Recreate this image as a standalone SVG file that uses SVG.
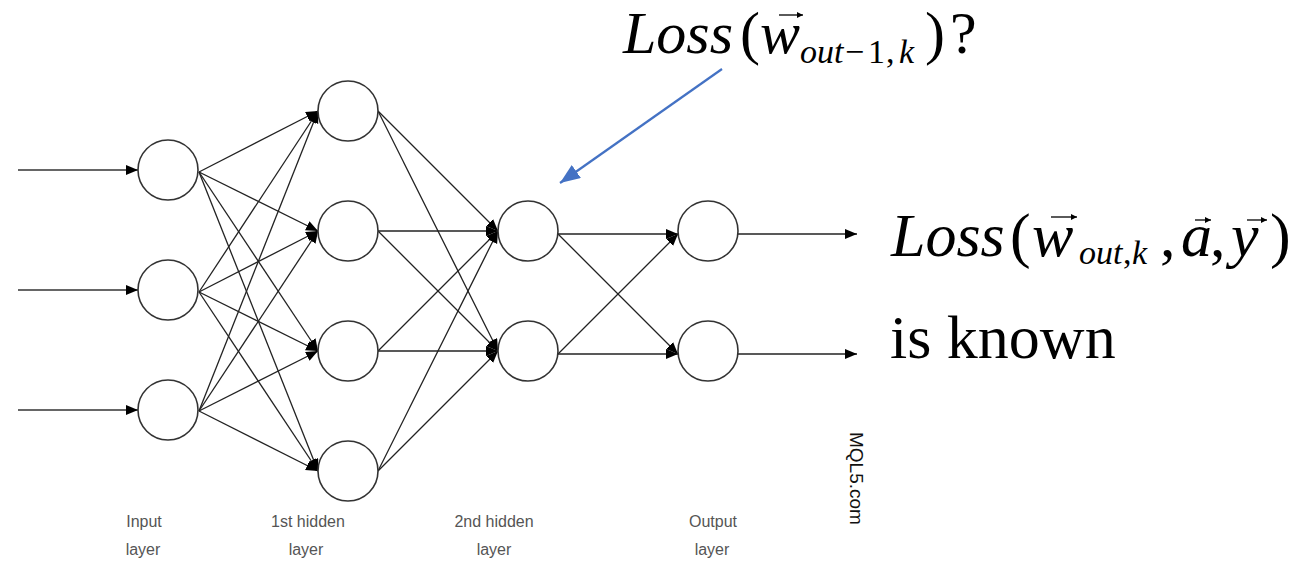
<svg xmlns="http://www.w3.org/2000/svg" width="1302" height="561" viewBox="0 0 1302 561">
<defs>
<style>
.node{fill:#fff;stroke:#333;stroke-width:1.6}
.edge{stroke:#222;stroke-width:1.3;fill:none}
.inp{stroke:#666;stroke-width:2;fill:none}
.lbl{font-family:'Liberation Sans',Arial,sans-serif;font-size:16px;fill:#555;text-anchor:middle}
.it{font-style:italic}
.vec{stroke:#000;stroke-width:1.3;fill:none}
.ser{font-family:'Liberation Serif','Times New Roman',serif}
</style>
<marker id="ah" markerUnits="userSpaceOnUse" markerWidth="14" markerHeight="12" refX="12" refY="5" orient="auto">
<path d="M0,0 L12,5 L0,10 z" fill="#000"/>
</marker>
<marker id="bh" markerUnits="userSpaceOnUse" markerWidth="22" markerHeight="18" refX="20" refY="8" orient="auto">
<path d="M0,0 L20,8 L0,16 z" fill="#4472C4"/>
</marker>
<marker id="vh" markerUnits="userSpaceOnUse" markerWidth="8" markerHeight="8" refX="6" refY="3" orient="auto">
<path d="M0,0 L6,3 L0,6 z" fill="#000"/>
</marker>
</defs>
<rect width="1302" height="561" fill="#fff"/>
<g id="connectors">
<line class="inp" x1="18" y1="170" x2="138" y2="170" marker-end="url(#ah)"/>
<line class="inp" x1="18" y1="290" x2="138" y2="290" marker-end="url(#ah)"/>
<line class="inp" x1="18" y1="410" x2="138" y2="410" marker-end="url(#ah)"/>
<line class="edge" x1="199" y1="172" x2="318" y2="111" marker-end="url(#ah)"/>
<line class="edge" x1="199" y1="172" x2="318" y2="231" marker-end="url(#ah)"/>
<line class="edge" x1="199" y1="172" x2="318" y2="351" marker-end="url(#ah)"/>
<line class="edge" x1="199" y1="172" x2="318" y2="471" marker-end="url(#ah)"/>
<line class="edge" x1="199" y1="292" x2="318" y2="111" marker-end="url(#ah)"/>
<line class="edge" x1="199" y1="292" x2="318" y2="231" marker-end="url(#ah)"/>
<line class="edge" x1="199" y1="292" x2="318" y2="351" marker-end="url(#ah)"/>
<line class="edge" x1="199" y1="292" x2="318" y2="471" marker-end="url(#ah)"/>
<line class="edge" x1="199" y1="411" x2="318" y2="111" marker-end="url(#ah)"/>
<line class="edge" x1="199" y1="411" x2="318" y2="231" marker-end="url(#ah)"/>
<line class="edge" x1="199" y1="411" x2="318" y2="351" marker-end="url(#ah)"/>
<line class="edge" x1="199" y1="411" x2="318" y2="471" marker-end="url(#ah)"/>
<line class="edge" x1="378" y1="111" x2="498" y2="231" marker-end="url(#ah)"/>
<line class="edge" x1="378" y1="111" x2="498" y2="351" marker-end="url(#ah)"/>
<line class="edge" x1="378" y1="231" x2="498" y2="231" marker-end="url(#ah)"/>
<line class="edge" x1="378" y1="231" x2="498" y2="351" marker-end="url(#ah)"/>
<line class="edge" x1="378" y1="351" x2="498" y2="231" marker-end="url(#ah)"/>
<line class="edge" x1="378" y1="351" x2="498" y2="351" marker-end="url(#ah)"/>
<line class="edge" x1="378" y1="471" x2="498" y2="231" marker-end="url(#ah)"/>
<line class="edge" x1="378" y1="471" x2="498" y2="351" marker-end="url(#ah)"/>
<line class="edge" x1="558" y1="234" x2="678" y2="234" marker-end="url(#ah)"/>
<line class="edge" x1="558" y1="234" x2="678" y2="354" marker-end="url(#ah)"/>
<line class="edge" x1="558" y1="354" x2="678" y2="234" marker-end="url(#ah)"/>
<line class="edge" x1="558" y1="354" x2="678" y2="354" marker-end="url(#ah)"/>
<line class="edge" x1="738" y1="234" x2="857" y2="234" marker-end="url(#ah)"/>
<line class="edge" x1="738" y1="354" x2="857" y2="354" marker-end="url(#ah)"/>
<line x1="722" y1="69" x2="560" y2="183" stroke="#4472C4" stroke-width="2.2" marker-end="url(#bh)"/>
</g>
<g id="input1"><circle class="node" cx="168" cy="170" r="30"/></g>
<g id="input2"><circle class="node" cx="168" cy="290" r="30"/></g>
<g id="input3"><circle class="node" cx="168" cy="410" r="30"/></g>
<g id="h1a"><circle class="node" cx="348" cy="111" r="30"/></g>
<g id="h1b"><circle class="node" cx="348" cy="231" r="30"/></g>
<g id="h1c"><circle class="node" cx="348" cy="351" r="30"/></g>
<g id="h1d"><circle class="node" cx="348" cy="471" r="30"/></g>
<g id="h2a"><circle class="node" cx="528" cy="231" r="30"/></g>
<g id="h2b"><circle class="node" cx="528" cy="351" r="30"/></g>
<g id="outa"><circle class="node" cx="708" cy="231" r="30"/></g>
<g id="outb"><circle class="node" cx="708" cy="351" r="30"/></g>
<g id="labels">
<text class="lbl" x="144" y="527">Input</text>
<text class="lbl" x="143" y="555">layer</text>
<text class="lbl" x="308" y="527">1st hidden</text>
<text class="lbl" x="306" y="555">layer</text>
<text class="lbl" x="494" y="527">2nd hidden</text>
<text class="lbl" x="494" y="555">layer</text>
<text class="lbl" x="713" y="527">Output</text>
<text class="lbl" x="712" y="555">layer</text>
<text transform="translate(850,432) rotate(90)" font-family="Liberation Sans, Arial, sans-serif" font-size="19" fill="#111">MQL5.com</text>
</g>
<g id="question" class="ser" fill="#000">
<text font-size="60"><tspan class="it" x="623" y="53">Loss</tspan><tspan x="740" y="53">(</tspan><tspan class="it" x="760" y="53">w</tspan></text>
<line class="vec" x1="779" y1="15" x2="803" y2="15" marker-end="url(#vh)"/>
<text font-size="34"><tspan class="it" x="800" y="63">out</tspan><tspan x="845" y="63">−</tspan><tspan x="868" y="63">1</tspan><tspan x="886" y="63">,</tspan><tspan class="it" x="899" y="63">k</tspan></text>
<text font-size="60"><tspan x="925" y="53">)</tspan><tspan x="950" y="53">?</tspan></text>
</g>
<g id="known" class="ser" fill="#000">
<text font-size="62"><tspan class="it" x="891" y="256">Loss</tspan><tspan x="1010" y="256">(</tspan><tspan class="it" x="1032" y="256">w</tspan></text>
<line class="vec" x1="1051" y1="217" x2="1077" y2="217" marker-end="url(#vh)"/>
<text font-size="34"><tspan class="it" x="1079" y="264">out</tspan><tspan x="1123" y="264">,</tspan><tspan class="it" x="1132" y="264">k</tspan></text>
<text font-size="62"><tspan x="1160" y="256">,</tspan><tspan class="it" x="1181" y="256">a</tspan><tspan x="1210" y="256">,</tspan><tspan class="it" x="1231" y="256">y</tspan><tspan x="1270" y="256">)</tspan></text>
<line class="vec" x1="1195" y1="220" x2="1211" y2="220" marker-end="url(#vh)"/>
<line class="vec" x1="1247" y1="220" x2="1267" y2="220" marker-end="url(#vh)"/>
<text font-size="62" x="890" y="358">is known</text>
</g>
</svg>
